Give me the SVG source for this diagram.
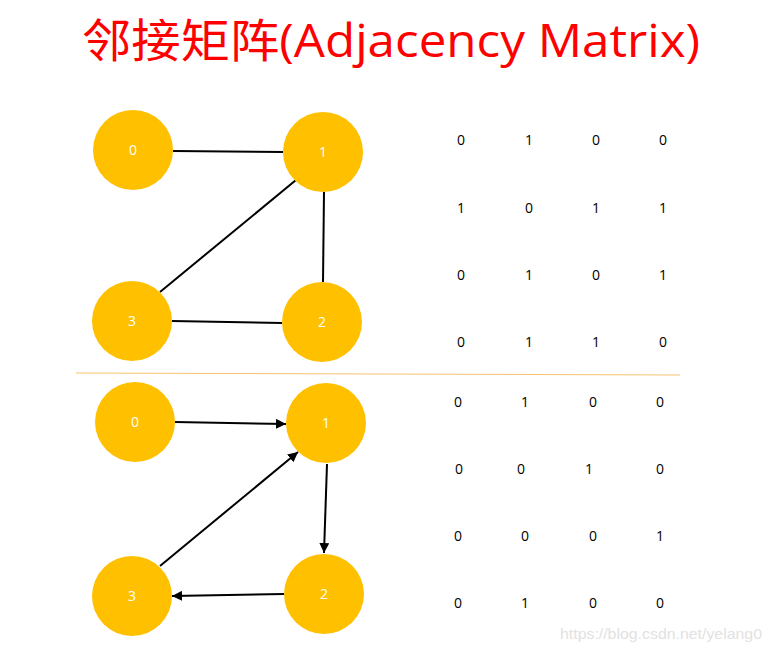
<svg xmlns="http://www.w3.org/2000/svg" width="770" height="652" viewBox="0 0 770 652">
<defs>
<style>
.node{fill:#ffc000}
.nl{fill:#ffffff;font-family:"Open Sans","Liberation Sans",sans-serif;font-size:14px;text-anchor:middle}
.edge{stroke:#000;stroke-width:2;fill:none}
.m{fill:#000;font-family:"Open Sans","Liberation Sans",sans-serif;font-size:14px;text-anchor:middle}
</style>
<marker id="arr" viewBox="0 0 10 10" refX="10" refY="5" markerWidth="5" markerHeight="5" orient="auto" markerUnits="strokeWidth">
<path d="M0,0 L10,5 L0,10 z" fill="#000"/>
</marker>
</defs>
<rect width="770" height="652" fill="#fff"/>
<text x="391" y="57" fill="#ff0000" font-family="'Open Sans','Noto Sans CJK SC',sans-serif" font-size="46" text-anchor="middle" textLength="618" lengthAdjust="spacingAndGlyphs">邻接矩阵(Adjacency Matrix)</text>

<g id="edges">
<line class="edge" x1="173" y1="151" x2="283" y2="152"/>
<line class="edge" x1="324" y1="192" x2="323" y2="282"/>
<line class="edge" x1="296" y1="180" x2="160" y2="292"/>
<line class="edge" x1="172" y1="321" x2="282" y2="323"/>
<line class="edge" x1="175" y1="422" x2="286" y2="424" marker-end="url(#arr)"/>
<line class="edge" x1="327" y1="464" x2="324" y2="553" marker-end="url(#arr)"/>
<line class="edge" x1="160" y1="566" x2="298" y2="452" marker-end="url(#arr)"/>
<line class="edge" x1="284" y1="594" x2="172" y2="596" marker-end="url(#arr)"/>
</g>

<g id="u0"><circle class="node" cx="133" cy="150" r="40"/><text class="nl" x="133" y="155">0</text></g>
<g id="u1"><circle class="node" cx="323" cy="152" r="40"/><text class="nl" x="323" y="157">1</text></g>
<g id="u2"><circle class="node" cx="322" cy="322" r="40"/><text class="nl" x="322" y="327">2</text></g>
<g id="u3"><circle class="node" cx="132" cy="321" r="40"/><text class="nl" x="132" y="326">3</text></g>

<g id="d0"><circle class="node" cx="135" cy="422" r="40"/><text class="nl" x="135" y="427">0</text></g>
<g id="d1"><circle class="node" cx="326" cy="423" r="40"/><text class="nl" x="326" y="428">1</text></g>
<g id="d2"><circle class="node" cx="324" cy="594" r="40"/><text class="nl" x="324" y="599">2</text></g>
<g id="d3"><circle class="node" cx="132" cy="596" r="40"/><text class="nl" x="132" y="601">3</text></g>

<line x1="76" y1="373" x2="680" y2="375" stroke="#f5c46e" stroke-width="1"/>

<g id="matrix-top">
<text class="m" x="461" y="145">0</text><text class="m" x="529" y="145">1</text><text class="m" x="596" y="145">0</text><text class="m" x="663" y="145">0</text>
<text class="m" x="461" y="213">1</text><text class="m" x="529" y="213">0</text><text class="m" x="596" y="213">1</text><text class="m" x="663" y="213">1</text>
<text class="m" x="461" y="280">0</text><text class="m" x="529" y="280">1</text><text class="m" x="596" y="280">0</text><text class="m" x="663" y="280">1</text>
<text class="m" x="461" y="347">0</text><text class="m" x="529" y="347">1</text><text class="m" x="596" y="347">1</text><text class="m" x="663" y="347">0</text>
</g>
<g id="matrix-bottom">
<text class="m" x="458" y="407">0</text><text class="m" x="525" y="407">1</text><text class="m" x="593" y="407">0</text><text class="m" x="660" y="407">0</text>
<text class="m" x="459" y="474">0</text><text class="m" x="521" y="474">0</text><text class="m" x="589" y="474">1</text><text class="m" x="660" y="474">0</text>
<text class="m" x="458" y="541">0</text><text class="m" x="525" y="541">0</text><text class="m" x="593" y="541">0</text><text class="m" x="660" y="541">1</text>
<text class="m" x="458" y="608">0</text><text class="m" x="525" y="608">1</text><text class="m" x="593" y="608">0</text><text class="m" x="660" y="608">0</text>
</g>

<text x="560" y="639" fill="#e2e2e2" font-family="'Liberation Sans',sans-serif" font-size="15" textLength="202" lengthAdjust="spacingAndGlyphs">https://blog.csdn.net/yelang0</text>
</svg>
